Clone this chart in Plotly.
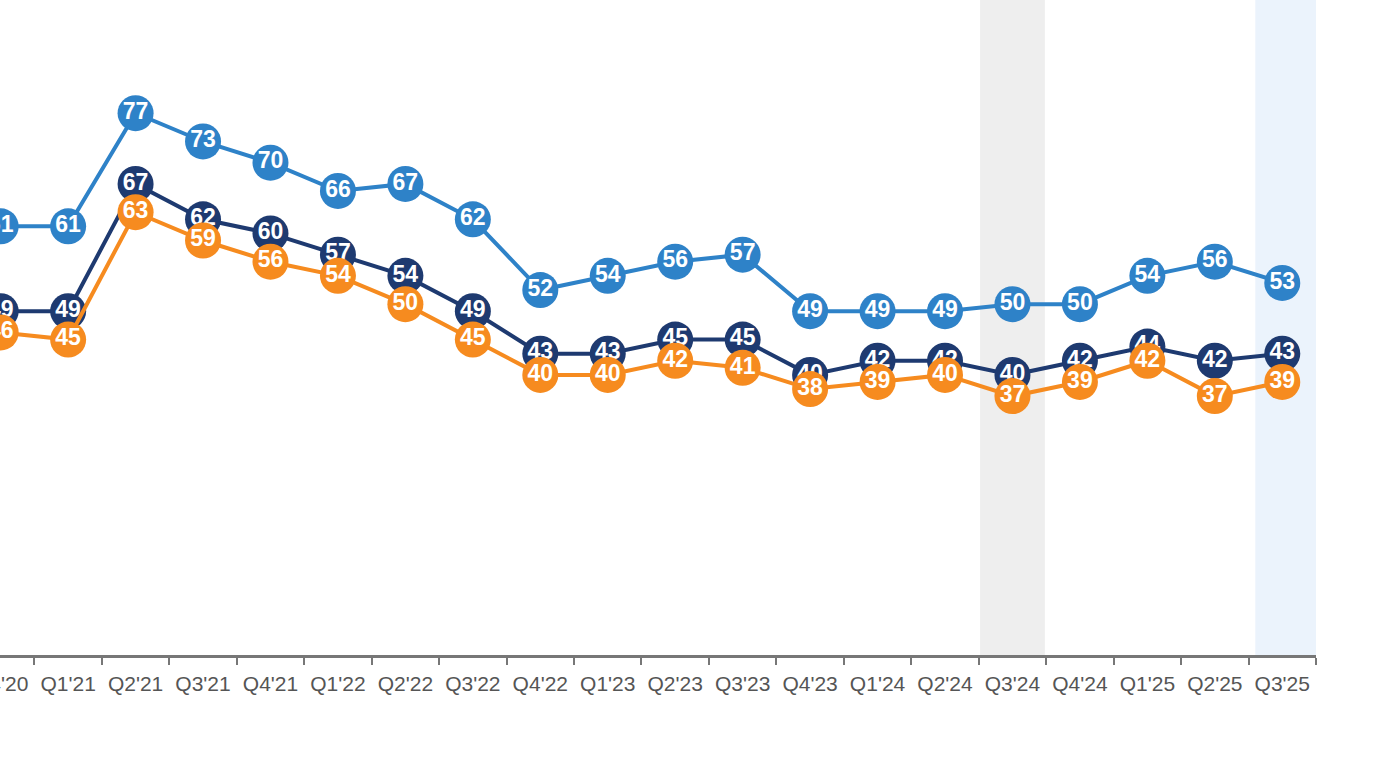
import plotly.graph_objects as go

quarters = ["Q4'20", "Q1'21", "Q2'21", "Q3'21", "Q4'21", "Q1'22", "Q2'22", "Q3'22",
            "Q4'22", "Q1'23", "Q2'23", "Q3'23", "Q4'23", "Q1'24", "Q2'24", "Q3'24",
            "Q4'24", "Q1'25", "Q2'25", "Q3'25"]

top_series = [61, 61, 77, 73, 70, 66, 67, 62, 52, 54, 56, 57, 49, 49, 49, 50, 50, 54, 56, 53]
mid_series = [49, 49, 67, 62, 60, 57, 54, 49, 43, 43, 45, 45, 40, 42, 42, 40, 42, 44, 42, 43]
low_series = [46, 45, 63, 59, 56, 54, 50, 45, 40, 40, 42, 41, 38, 39, 40, 37, 39, 42, 37, 39]

grey_band = "Q3'24"
blue_band = "Q3'25"


def make_trace(values, color):
    return go.Scatter(
        x=quarters,
        y=values,
        mode="lines+markers+text",
        text=[str(v) for v in values],
        textposition="middle center",
        textfont=dict(family="Liberation Sans, Arial, sans-serif", size=23,
                      color="white", weight="bold"),
        line=dict(color=color, width=4),
        marker=dict(size=36, color=color),
        cliponaxis=False,
        showlegend=False,
        hoverinfo="x+y",
    )


fig = go.Figure([
    make_trace(top_series, "#2E82C8"),
    make_trace(mid_series, "#1E3A70"),
    make_trace(low_series, "#F68B1F"),
])

# shaded quarters (the last one sits a touch right in the original)
for q, col, dx in [(grey_band, "#EEEEEE", 0.0), (blue_band, "#EBF3FC", 0.08)]:
    i = quarters.index(q)
    fig.add_shape(type="rect", xref="x", yref="paper",
                  x0=i - 0.48 + dx, x1=i + 0.48 + dx, y0=0, y1=1,
                  fillcolor=col, line_width=0, layer="below")

fig.update_layout(
    width=1400,
    height=763,
    margin=dict(l=0, r=84, t=0, b=108),
    plot_bgcolor="white",
    paper_bgcolor="white",
    font=dict(family="Liberation Sans, Arial, sans-serif"),
)

fig.update_xaxes(
    type="category",
    range=[-0.01, 19.5],
    automargin=False,
    tickson="boundaries",
    ticks="outside",
    ticklen=7,
    tickwidth=2,
    tickcolor="#777777",
    showline=True,
    linecolor="#777777",
    linewidth=3,
    showgrid=False,
    ticklabeloverflow="allow",
    ticklabelstandoff=8,
    tickfont=dict(size=21, color="#555555"),
)

fig.update_yaxes(
    range=[0.4, 93.0],
    visible=False,
    showgrid=False,
    zeroline=False,
)

fig.write_html("out.html", config={"displayModeBar": False},
               post_script="document.body.style.margin='0';")
